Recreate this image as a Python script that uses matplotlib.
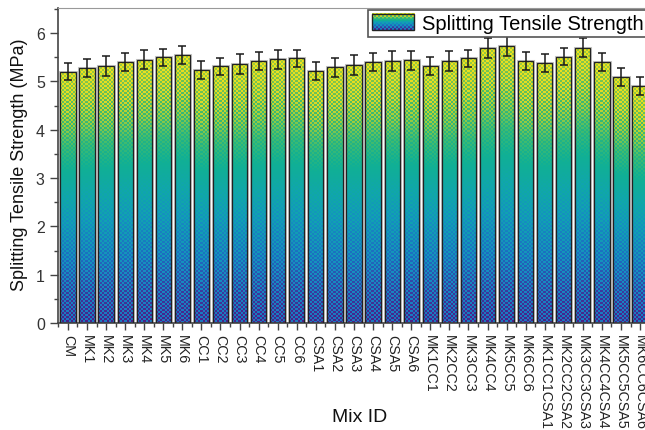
import numpy as np
import matplotlib
matplotlib.use("Agg")
import matplotlib.pyplot as plt
from matplotlib.colors import LinearSegmentedColormap
from matplotlib.patches import Rectangle
from matplotlib.legend_handler import HandlerBase
from matplotlib.image import BboxImage
from matplotlib.transforms import Bbox, TransformedBbox
from matplotlib.ticker import MultipleLocator

plt.rcParams['font.family'] = ['Liberation Sans', 'DejaVu Sans']

categories = ['CM', 'MK1', 'MK2', 'MK3', 'MK4', 'MK5', 'MK6',
              'CC1', 'CC2', 'CC3', 'CC4', 'CC5', 'CC6',
              'CSA1', 'CSA2', 'CSA3', 'CSA4', 'CSA5', 'CSA6',
              'MK1CC1', 'MK2CC2', 'MK3CC3', 'MK4CC4', 'MK5CC5', 'MK6CC6',
              'MK1CC1CSA1', 'MK2CC2CSA2', 'MK3CC3CSA3', 'MK4CC4CSA4',
              'MK5CC5CSA5', 'MK6CC6CSA6']
strength = [5.20, 5.28, 5.32, 5.40, 5.45, 5.50, 5.55,
            5.24, 5.31, 5.36, 5.42, 5.46, 5.48,
            5.22, 5.29, 5.34, 5.40, 5.42, 5.44,
            5.32, 5.42, 5.48, 5.69, 5.74, 5.42,
            5.38, 5.51, 5.70, 5.40, 5.09, 4.90]
errors = [0.18, 0.18, 0.20, 0.18, 0.20, 0.18, 0.19,
          0.18, 0.18, 0.20, 0.18, 0.20, 0.18,
          0.18, 0.19, 0.20, 0.18, 0.20, 0.20,
          0.18, 0.20, 0.18, 0.20, 0.21, 0.18,
          0.18, 0.18, 0.20, 0.18, 0.18, 0.19]
y_ticks = [0, 1, 2, 3, 4, 5, 6]
legend_label = 'Splitting Tensile Strength'

cmap = LinearSegmentedColormap.from_list('grad', [
    (0.0, '#4b2088'), (0.12, '#3a3aa0'), (0.25, '#1d6cc0'), (0.4, '#1590c0'),
    (0.5, '#10a4b0'), (0.6, '#10b094'), (0.7, '#44bc6c'), (0.78, '#a0cc3c'),
    (0.86, '#dcd826'), (1.0, '#f4e41a')])


def texture(h, w):
    h = max(int(round(h)), 2)
    w = max(int(round(w)), 2)
    yy, xx = np.mgrid[0:h, 0:w]
    t = 1.0 - yy / (h - 1)
    pat = ((xx // 2 + yy // 2) % 2) == 0
    base = cmap(t)
    dots = cmap(np.clip(0.3 + 0.48 * t, 0, 1))
    img = np.where(pat[..., None], dots, base)
    return img


fig = plt.figure(figsize=(6.45, 4.31), dpi=100)
ax = fig.add_axes([58 / 645, 1 - 324 / 431, 592 / 645, 315 / 431])
x = np.arange(len(categories))
ax.set_xlim(-0.52, len(categories) - 0.48)
ax.set_ylim(0, 6.52)

bw = 0.8
halo = ax.bar(x, strength, width=bw, facecolor='none', edgecolor='#c4c4c4',
              linewidth=2.2, zorder=1)
bars = ax.bar(x, strength, width=bw, facecolor='none', edgecolor='#222222',
              linewidth=0.9, zorder=3)
for b, v in zip(bars, strength):
    p0 = ax.transData.transform((b.get_x(), 0))
    p1 = ax.transData.transform((b.get_x() + b.get_width(), v))
    img = texture(abs(p1[1] - p0[1]), abs(p1[0] - p0[0]))
    im = ax.imshow(img, extent=(b.get_x(), b.get_x() + b.get_width(), 0, v),
                   aspect='auto', interpolation='nearest', zorder=2)
    im.set_clip_path(b)

ax.errorbar(x, strength, yerr=errors, fmt='none', ecolor='#1a1a1a',
            elinewidth=1.1, capsize=2.8, capthick=1.1, zorder=4)

ax.set_xticks(x)
ax.set_xticklabels(categories, rotation=-90, fontsize=10.3, color='#222')
ax.xaxis.set_minor_locator(MultipleLocator(0.5))
ax.set_yticks(y_ticks)
ax.yaxis.set_minor_locator(MultipleLocator(0.5))
ax.tick_params(axis='y', which='major', length=5.5, width=1, color='#444',
               labelsize=11.5, labelcolor='#333', pad=4)
ax.tick_params(axis='y', which='minor', length=3, width=1, color='#444')
ax.tick_params(axis='x', which='major', length=5, width=1, color='#444', pad=3)
ax.tick_params(axis='x', which='minor', length=3, width=1, color='#444')

for s in ['left', 'bottom']:
    ax.spines[s].set_color('#444')
    ax.spines[s].set_linewidth(1.2)
ax.spines['top'].set_color('#999')
ax.spines['right'].set_color('#999')

ax.set_ylabel('Splitting Tensile Strength (MPa)', fontsize=13, color='#111',
              va='center')
ax.yaxis.set_label_coords(-(58 - 20) / 592, (324 - 165) / 315)
ax.set_xlabel('Mix ID', fontsize=14, color='#111', va='center')
ax.xaxis.set_label_coords((360 - 58) / 592, -(418 - 324) / 315)


class GradHandler(HandlerBase):
    def create_artists(self, legend, orig_handle, xdescent, ydescent, width,
                       height, fontsize, trans):
        bb = Bbox.from_bounds(-xdescent, -ydescent, width, height)
        img = BboxImage(TransformedBbox(bb, trans), interpolation='nearest')
        img.set_data(texture(18, 43))
        rect = Rectangle((-xdescent, -ydescent), width, height, fc='none',
                         ec='#222', lw=1.0, transform=trans)
        return [img, rect]


handle = Rectangle((0, 0), 1, 1)
leg = ax.legend([handle], [legend_label], handler_map={Rectangle: GradHandler()},
                loc='upper left', bbox_to_anchor=(368 / 645, 1 - 11 / 431),
                bbox_transform=fig.transFigure, fontsize=14.5,
                handlelength=2.1, handleheight=0.9, handletextpad=0.4,
                borderpad=0.18, borderaxespad=0, fancybox=False, framealpha=1,
                edgecolor='#555')
leg.get_frame().set_linewidth(1.2)
leg.set_zorder(6)

fig.savefig('out.png', dpi=100)
